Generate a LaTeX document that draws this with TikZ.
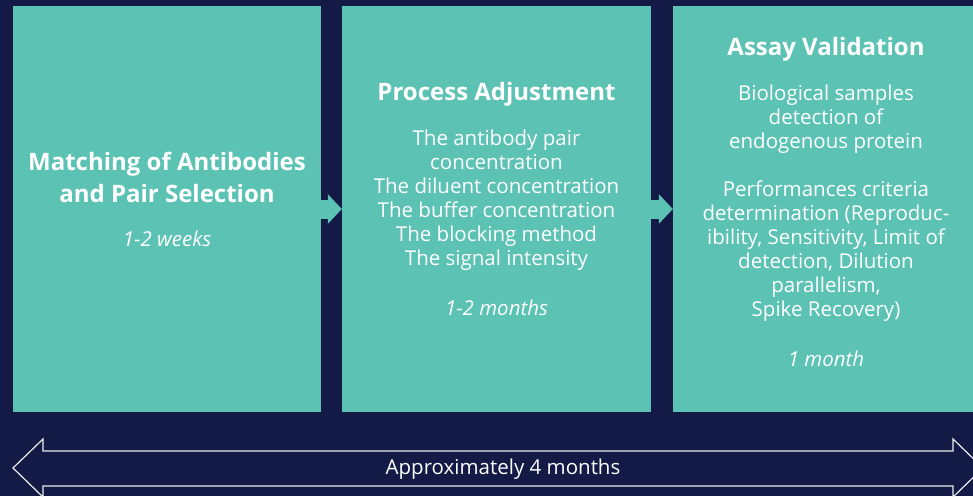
\documentclass[tikz,border=0pt]{standalone}
\usepackage{fontspec}
\setmainfont{Open Sans}
\usetikzlibrary{arrows.meta,calc}
\definecolor{bgnavy}{HTML}{121A45}
\definecolor{tealbox}{HTML}{5BC2B4}
\begin{document}
\begin{tikzpicture}[x=1pt,y=-1pt,
  stagebox/.style={rectangle,fill=tealbox,draw=none,inner sep=0pt,minimum height=406pt},
  title/.style={text=white,align=center,font=\fontsize{24}{32}\selectfont\bfseries},
  body/.style={text=white,align=center,font=\fontsize{20.5}{24}\selectfont},
  dur/.style={text=white,align=center,font=\fontsize{20.5}{24}\selectfont\itshape},
  flow/.style={draw=tealbox,line width=19pt,-{Triangle[length=14pt,width=29pt]}}]
\fill[bgnavy] (0,0) rectangle (973,496);
\useasboundingbox (0,0) rectangle (973,496);
\node[stagebox,minimum width=308pt] (b1) at (167,209) {};
\node[stagebox,minimum width=309pt] (b2) at (496.5,209) {};
\node[stagebox,minimum width=306pt] (b3) at (826,209) {};
\draw[flow] (b1.east) -- (b2.west);
\draw[flow] (b2.east) -- (b3.west);
% box 1
\node[title] (t1) at (167,177) {Matching of Antibodies\\and Pair Selection};
\node[dur] (d1) at (167,238.5) {1-2 weeks};
% box 2
\node[title] (t2) at (496.5,94) {Process Adjustment};
\node[body] (x2) at (496.5,200.5) {The antibody pair\\concentration\\The diluent concentration\\The buffer concentration\\The blocking method\\The signal intensity};
\node[dur] (d2) at (496.5,308) {1-2 months};
% box 3
\node[title] (t3) at (826,49) {Assay Validation};
\node[body] (x3) at (826,203.5) {Biological samples\\detection of\\endogenous protein\\[24pt]Performances criteria\\determination (Reproduc-\\ibility, Sensitivity, Limit of\\detection, Dilution\\parallelism,\\Spike Recovery)};
\node[dur] (d3) at (826,359) {1 month};
% bottom double arrow
\draw[white!85!gray,line width=1.2pt,line join=miter]
  (13,468) -- (43,439) -- (43,451) -- (953,451) -- (953,439) -- (983,468)
  -- (953,497) -- (953,486) -- (43,486) -- (43,497) -- cycle;
\node[body] (span) at (503,469.5) {Approximately 4 months};
\end{tikzpicture}
\end{document}
